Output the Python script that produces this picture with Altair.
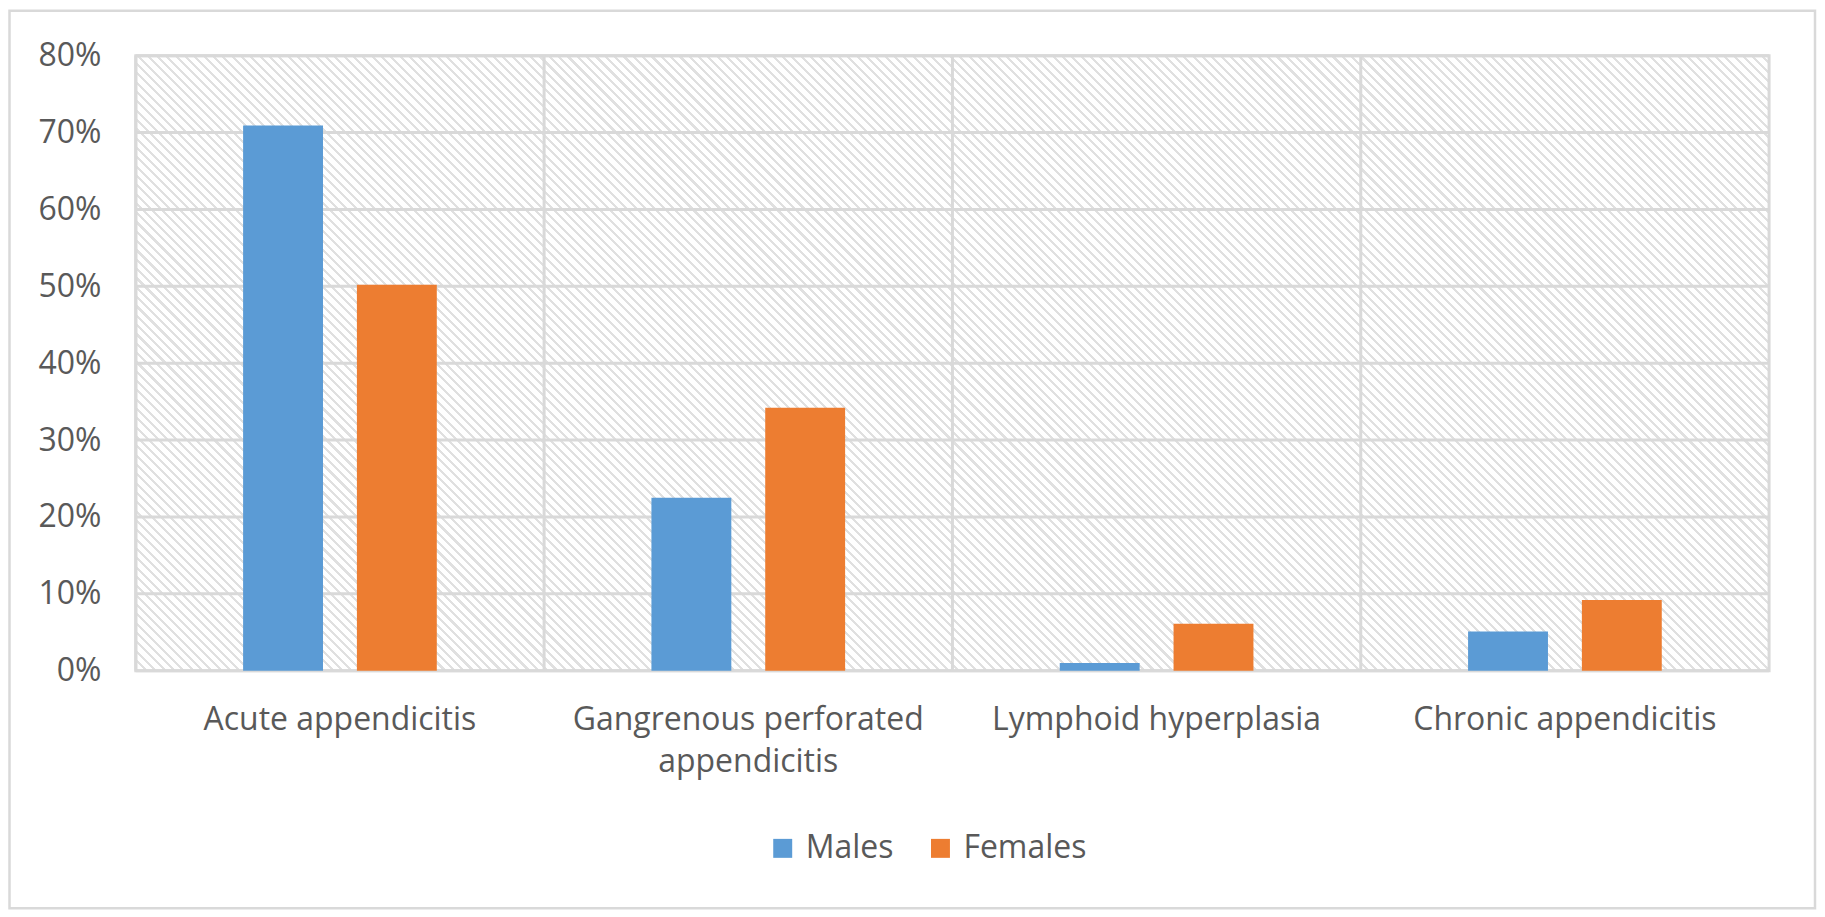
import altair as alt
import pandas as pd

categories = ["Acute appendicitis", "Gangrenous perforated appendicitis",
              "Lymphoid hyperplasia", "Chronic appendicitis"]
series = ["Males", "Females"]
males = [70.9, 22.5, 1.0, 5.1]
females = [50.2, 34.2, 6.1, 9.2]
y_ticks = [0, 10, 20, 30, 40, 50, 60, 70, 80]
colors = ["#5b9bd5", "#ed7d31"]

rows = []
for i, c in enumerate(categories):
    rows.append({"cat": c, "sex": "Males", "pct": males[i]})
    rows.append({"cat": c, "sex": "Females", "pct": females[i]})
df = pd.DataFrame(rows)
ticks_df = pd.DataFrame({"v": y_ticks})
cats_df = pd.DataFrame({"cat": categories})
one = pd.DataFrame({"k": [0]})

W, H = 1636, 616
FONT = "Open Sans"
TXT = "#595959"
GRID = "#d9d9d9"

# diagonal hatch as a striped linear gradient (45 degrees in pixel space)
r = H / W
k = (1 + r) / (1 + r * r)
x1, y1, x2, y2 = 0.0, 1.0, k, 1.0 - r * k
span = (W + H) / 2 ** 0.5
period = 6.6
n = int(span / period)
stops = []
for i in range(n):
    a = i / n
    b = (i + 0.33) / n
    c = (i + 1) / n
    stops += [alt.GradientStop(offset=a, color="#e0e0e0"),
              alt.GradientStop(offset=b, color="#e0e0e0"),
              alt.GradientStop(offset=b, color="#ffffff"),
              alt.GradientStop(offset=c, color="#ffffff")]
hatch = alt.LinearGradient(gradient="linear", stops=stops, x1=x1, y1=y1, x2=x2, y2=y2)

x_scale = alt.Scale(domain=categories, paddingInner=0, paddingOuter=0)
y_scale = alt.Scale(domain=[0, 80], nice=False)

x_axis = alt.Axis(title=None, labelAngle=0, domain=False, ticks=False, grid=False,
                  labelFont=FONT, labelFontSize=32, labelColor=TXT, labelPadding=34,
                  labelLimit=600, labelLineHeight=42,
                  labelExpr="datum.value == 'Gangrenous perforated appendicitis' ? "
                            "['Gangrenous perforated', 'appendicitis'] : datum.value")
y_axis = alt.Axis(title=None, values=y_ticks, domain=False, ticks=False, grid=False,
                  labelFont=FONT, labelFontSize=32, labelColor=TXT, labelPadding=35,
                  labelExpr="datum.value + '%'")

frame = alt.Chart(one).mark_rect(fill="transparent", stroke=GRID, strokeWidth=2.5).encode(
    x=alt.value(-126.5), x2=alt.value(1682), y=alt.value(-45), y2=alt.value(854)
)

panel = alt.Chart(one).mark_rect(fill=hatch, stroke=GRID, strokeWidth=3).encode(
    x=alt.value(0), x2=alt.value("width"), y=alt.value(0), y2=alt.value("height")
)

hgrid = alt.Chart(ticks_df).mark_rule(color=GRID, strokeWidth=3).encode(
    y=alt.Y("v:Q", scale=y_scale, axis=y_axis),
    x=alt.value(0), x2=alt.value("width")
)

vgrid = alt.Chart(cats_df).mark_rule(color=GRID, strokeWidth=3).encode(
    x=alt.X("cat:N", scale=x_scale, sort=categories, bandPosition=0, axis=x_axis),
    y=alt.value(0), y2=alt.value("height")
)

bars = alt.Chart(df).mark_bar().encode(
    x=alt.X("cat:N", scale=x_scale, sort=categories, axis=x_axis),
    xOffset=alt.XOffset("sex:N", sort=series,
                        scale=alt.Scale(domain=series, paddingInner=0.298, paddingOuter=0.943)),
    y=alt.Y("pct:Q", scale=y_scale, axis=y_axis),
    color=alt.Color("sex:N", sort=series,
                    scale=alt.Scale(domain=series, range=colors),
                    legend=alt.Legend(title=None, orient="none", direction="horizontal",
                                      legendX=632, legendY=778,
                                      symbolType="square", symbolSize=361, symbolStrokeWidth=0,
                                      labelFont=FONT, labelFontSize=32, labelColor=TXT,
                                      labelOffset=7, columnPadding=31))
)

chart = alt.layer(frame, panel, hgrid, vgrid, bars).properties(
    width=W, height=H, padding=0, background="white"
).configure_view(stroke=None)

chart.save("out.html", embed_options={"renderer": "svg", "actions": False})
